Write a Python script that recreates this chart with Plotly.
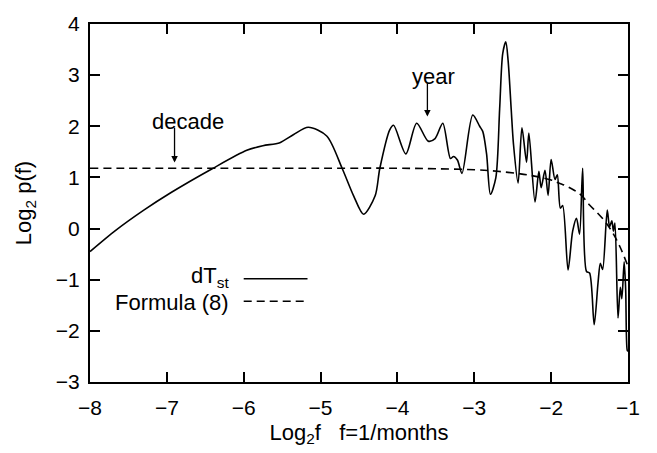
import plotly.graph_objects as go

# Solid curve dT_st
x_st = [-8.00, -7.67, -7.30, -6.95, -6.41, -5.96, -5.75, -5.53, -5.35, -5.16, -4.92, -4.72, -4.57, -4.44,
        -4.29, -4.23, -4.10, -4.05, -3.89, -3.75, -3.60, -3.51, -3.41, -3.31, -3.27, -3.22, -3.16, -3.02,
        -2.93, -2.89, -2.84, -2.79, -2.72, -2.67, -2.63, -2.59, -2.56, -2.52, -2.49, -2.43, -2.38, -2.32,
        -2.29, -2.21, -2.16, -2.13, -2.08, -2.04, -2.00, -1.95, -1.92, -1.88, -1.85, -1.78, -1.72, -1.67,
        -1.63, -1.59, -1.54, -1.50, -1.44, -1.39, -1.36, -1.33, -1.27, -1.24, -1.21, -1.19, -1.17, -1.13,
        -1.10, -1.08, -1.05, -1.03, -1.01, -1.00]
y_st = [-0.45, -0.04, 0.36, 0.70, 1.17, 1.53, 1.62, 1.68, 1.84, 1.98, 1.81, 1.18, 0.64, 0.28,
        0.64, 1.17, 1.93, 2.02, 1.46, 2.06, 1.71, 1.76, 2.06, 1.37, 1.41, 1.34, 1.08, 2.22,
        2.00, 1.90, 1.46, 0.67, 0.99, 2.34, 3.42, 3.65, 3.29, 2.34, 1.65, 0.89, 1.97, 1.30,
        1.87, 0.52, 1.12, 0.80, 1.14, 0.65, 1.35, 0.96, 1.05, 0.40, 0.45, -0.81, -0.05, 0.20,
        -0.11, 1.18, -0.84, -0.87, -1.88, -1.06, -0.68, -0.80, 0.36, 0.04, 0.15, -0.05, 0.11, -1.75,
        -1.15, -1.37, -0.65, -1.20, -2.38, -2.40]

# Dashed curve Formula (8)
x_f = [-8.0, -5.0, -4.0, -3.5, -3.0, -2.7, -2.4, -2.2, -2.0, -1.9, -1.8, -1.7, -1.6, -1.5, -1.4, -1.3,
       -1.2, -1.1, -1.0]
y_f = [1.18, 1.18, 1.18, 1.17, 1.15, 1.12, 1.07, 1.02, 0.95, 0.89, 0.83, 0.75, 0.64, 0.46, 0.31, 0.14,
       -0.08, -0.37, -0.74]

x_ticks = [-8, -7, -6, -5, -4, -3, -2, -1]
y_ticks = [-3, -2, -1, 0, 1, 2, 3, 4]

FONT = "Liberation Sans, Arial, sans-serif"
TXT = 22

fig = go.Figure()
fig.add_trace(go.Scatter(x=x_st, y=y_st, mode="lines",
                         line=dict(color="black", width=1.6, shape="spline", smoothing=0.8),
                         showlegend=False))
fig.add_trace(go.Scatter(x=x_f, y=y_f, mode="lines",
                         line=dict(color="black", width=1.6, dash="8px,5px", shape="spline"),
                         showlegend=False))

# legend drawn manually (text left, line right)
fig.add_annotation(x=-6.17, y=-0.95, xref="x", yref="y", text="dT<sub>st</sub>", showarrow=False,
                   xanchor="right", yanchor="middle", font=dict(size=TXT, color="black", family=FONT))
fig.add_annotation(x=-6.17, y=-1.44, xref="x", yref="y", text="Formula (8)", showarrow=False,
                   xanchor="right", yanchor="middle", font=dict(size=TXT, color="black", family=FONT))
fig.add_shape(type="line", x0=-6.0, x1=-5.17, y0=-0.98, y1=-0.98, xref="x", yref="y",
              line=dict(color="black", width=1.6))
fig.add_shape(type="line", x0=-6.0, x1=-5.17, y0=-1.42, y1=-1.42, xref="x", yref="y",
              line=dict(color="black", width=1.6, dash="8px,5px"))

# annotations with arrows
fig.add_annotation(x=-6.72, y=2.10, text="decade", showarrow=False,
                   font=dict(size=TXT, color="black", family=FONT))
fig.add_annotation(x=-6.90, y=1.29, ax=-6.90, ay=2.0, axref="x", ayref="y", xref="x", yref="y", text="",
                   showarrow=True, arrowhead=2, arrowsize=1, arrowwidth=1.3, arrowcolor="black")
fig.add_annotation(x=-3.53, y=2.97, text="year", showarrow=False,
                   font=dict(size=TXT, color="black", family=FONT))
fig.add_annotation(x=-3.61, y=2.19, ax=-3.61, ay=2.87, axref="x", ayref="y", xref="x", yref="y", text="",
                   showarrow=True, arrowhead=2, arrowsize=1, arrowwidth=1.3, arrowcolor="black")

fig.update_layout(
    width=657, height=453,
    margin=dict(l=89.5, r=28.5, t=12, b=70),
    plot_bgcolor="white", paper_bgcolor="white",
    font=dict(family=FONT, size=21, color="black"),
    xaxis=dict(range=[-8, -1], tickvals=x_ticks, ticks="inside", ticklen=10, tickwidth=1.5, tickcolor="black",
               showline=True, linecolor="black", linewidth=2, mirror="ticks", showgrid=False, zeroline=False,
               ticklabelstandoff=6,
               title=dict(text="Log<sub>2</sub>f&nbsp;&nbsp;&nbsp;f=1/months", font=dict(size=TXT), standoff=6)),
    yaxis=dict(range=[-3, 4], tickvals=y_ticks, ticks="inside", ticklen=10, tickwidth=1.5, tickcolor="black",
               showline=True, linecolor="black", linewidth=2, mirror="ticks", showgrid=False, zeroline=False,
               ticklabelstandoff=4,
               title=dict(text="Log<sub>2</sub> p(f)", font=dict(size=TXT), standoff=18)),
)

fig.write_html("out.html")
